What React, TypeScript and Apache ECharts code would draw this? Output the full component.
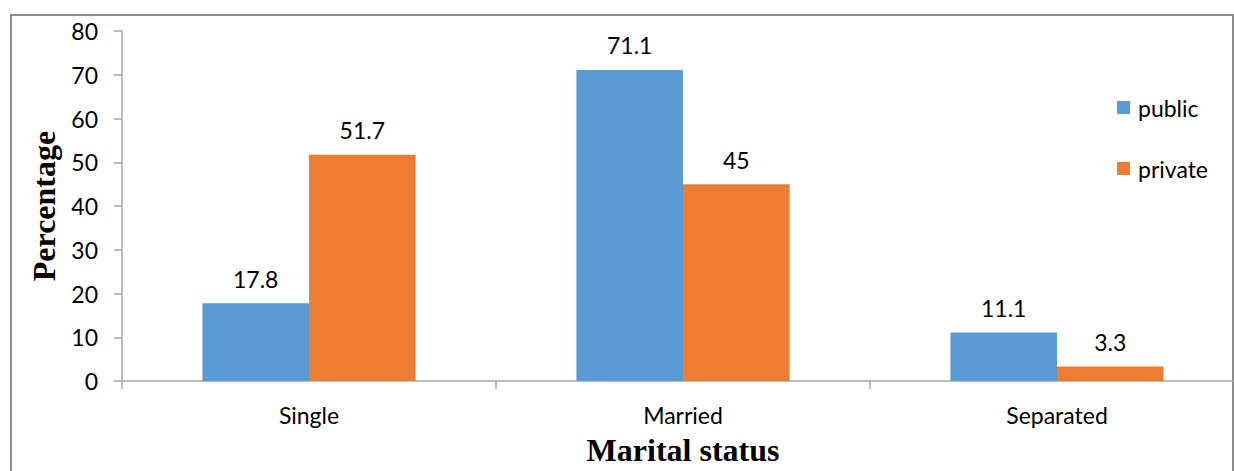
import React, { useEffect, useRef } from "react";
import * as echarts from "echarts";

const categories = ["Single", "Married", "Separated"];
const publicValues = [17.8, 71.1, 11.1];
const privateValues = [51.7, 45, 3.3];
const seriesNames = ["public", "private"];

const labelFont = "Lato, 'Open Sans', sans-serif";
const titleFont = "'Liberation Serif', 'Times New Roman', serif";

export default function App() {
  const ref = useRef<HTMLDivElement>(null);
  useEffect(() => {
    if (!ref.current) return;
    const chart = echarts.init(ref.current, undefined, { renderer: "svg" });
    const barLabel = {
      show: true,
      position: "top",
      distance: 13,
      color: "#000",
      fontSize: 23,
      fontFamily: labelFont,
    };
    chart.setOption({
      animation: false,
      backgroundColor: "#fff",
      graphic: [
        {
          type: "rect",
          shape: { x: 11, y: 15, width: 1222, height: 480 },
          style: { fill: "none", stroke: "#8c8c8c", lineWidth: 2 },
          silent: true,
          z: -1,
        },
      ],
      legend: {
        orient: "vertical",
        left: 1117,
        top: 96,
        itemWidth: 13,
        itemHeight: 13,
        itemGap: 38,
        icon: "rect",
        padding: 0,
        textStyle: { fontSize: 23, fontFamily: labelFont, color: "#000", padding: [0, 0, 0, 3] },
        data: seriesNames,
      },
      grid: { left: 122, top: 31, bottom: 85, right: 6, containLabel: false },
      xAxis: {
        type: "category",
        data: categories,
        name: "Marital status",
        nameLocation: "middle",
        nameGap: 53,
        nameTextStyle: {
          fontFamily: titleFont,
          fontWeight: "bold",
          fontSize: 32,
          color: "#000",
        },
        axisLine: { lineStyle: { color: "#a6a6a6", width: 1.5 } },
        axisTick: { show: true, length: 8, lineStyle: { color: "#a6a6a6", width: 1.5 } },
        axisLabel: { fontSize: 23, fontFamily: labelFont, color: "#000", margin: 22 },
      },
      yAxis: {
        type: "value",
        min: 0,
        max: 80,
        interval: 10,
        name: "Percentage",
        nameLocation: "middle",
        nameGap: 61,
        nameTextStyle: {
          fontFamily: titleFont,
          fontWeight: "bold",
          fontSize: 32,
          color: "#000",
        },
        splitLine: { show: false },
        axisLine: { show: true, lineStyle: { color: "#a6a6a6", width: 1.5 } },
        axisTick: { show: true, length: 8, lineStyle: { color: "#a6a6a6", width: 1.5 } },
        axisLabel: { fontSize: 23, fontFamily: labelFont, color: "#000", margin: 24 },
      },
      series: [
        {
          name: seriesNames[0],
          type: "bar",
          data: publicValues,
          itemStyle: { color: "#5B9BD5" },
          barGap: "0%",
          barCategoryGap: "43%",
          label: barLabel,
        },
        {
          name: seriesNames[1],
          type: "bar",
          data: privateValues,
          itemStyle: { color: "#ED7D31" },
          barGap: "0%",
          barCategoryGap: "43%",
          label: barLabel,
        },
      ],
    });
    return () => chart.dispose();
  }, []);
  return (
    <div
      style={{
        position: "fixed",
        left: 0,
        top: 0,
        width: 1234,
        height: 471,
        overflow: "hidden",
        background: "#fff",
      }}
    >
      <div ref={ref} style={{ width: 1250, height: 471 }} />
    </div>
  );
}
